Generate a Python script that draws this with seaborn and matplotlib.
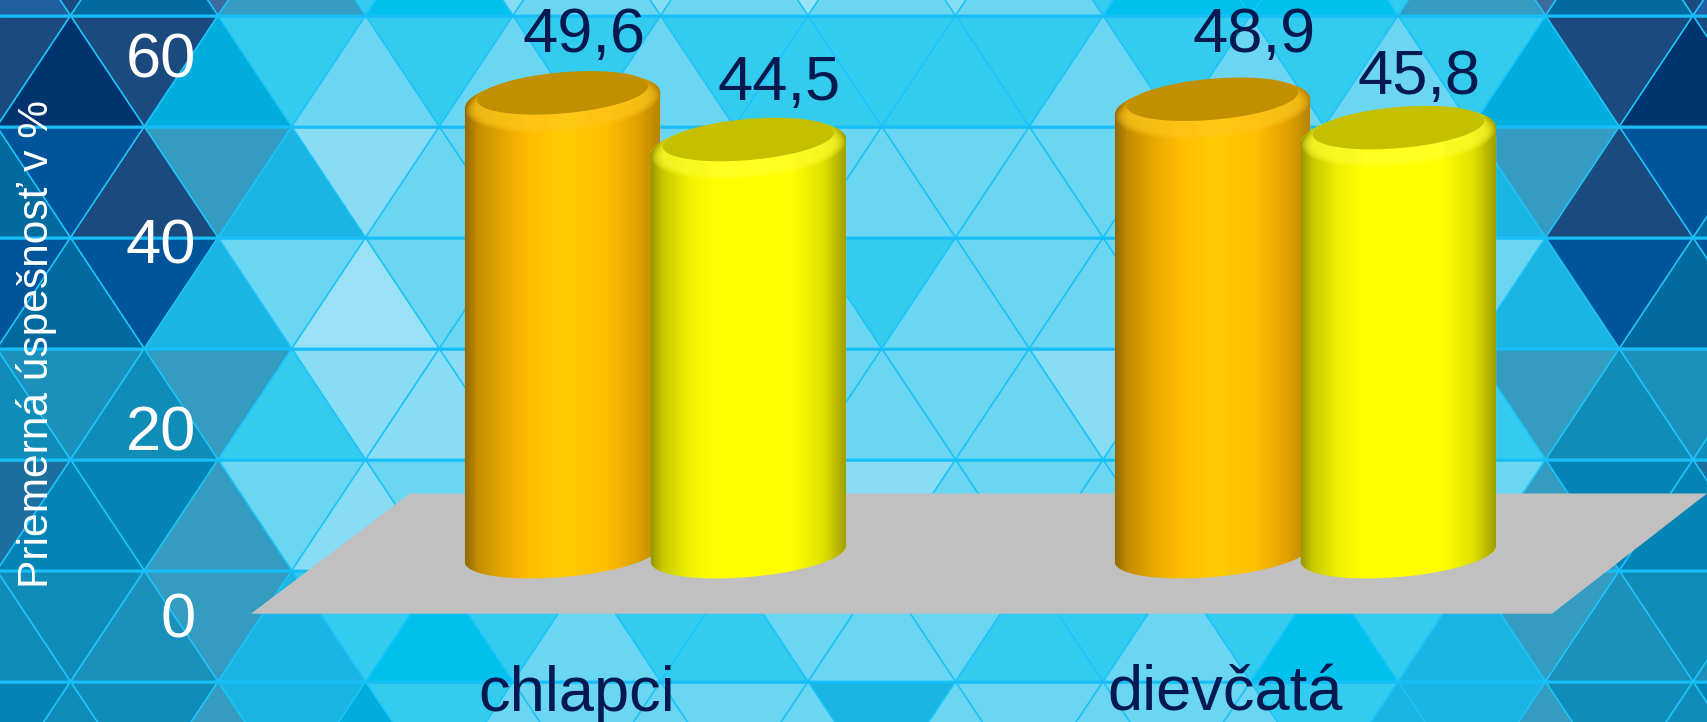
import numpy as np
import pandas as pd
import matplotlib
matplotlib.use("Agg")
import matplotlib.pyplot as plt
from matplotlib.collections import PolyCollection
from matplotlib.colors import LinearSegmentedColormap
from matplotlib.patches import PathPatch, Polygon
from matplotlib.path import Path
import seaborn as sns

# valores del grafico
skupiny = ["chlapci", "dievčatá"]
serie_a = [49.6, 48.9]
serie_b = [44.5, 45.8]
y_ticks = [0, 20, 40, 60]
y_titulo = "Priemerná úspešnosť v %"

# fondo de triangulos, una fila de letras por cada banda horizontal
colores_fondo = {
    "A": "#00346f", "B": "#1b4a7e", "C": "#00559a", "D": "#006a9f",
    "E": "#0484b4", "F": "#0f8cb8", "G": "#1a90bb", "H": "#339cc0",
    "I": "#00aede", "J": "#1ab5e3", "K": "#00c0ee", "L": "#33ccee",
    "M": "#6ad6f2", "N": "#88dcf3", "O": "#99e2f6", "Q": "#2060a0",
    "R": "#3d6b9e", "S": "#1c6f9f",
}
filas_fondo = [
    "QBDRHLKNMNMOMNMLKKKLHRDBQ",
    "BABILMLMLMLLLLLMLMLMLIBAB",
    "DCBHJNMMMMMMMMMMMMMNJHBCD",
    "CDCJMOMMMMMMLMMMMMMMMJCDC",
    "FGFHLNNNMMMMMMMNMMMNLHFGF",
    "SEEHMNMMMMMMNMMMMMMMMHEES",
    "FFGHJLKLMLLMMMLLMLKLJHGFG",
    "EFFHJILMMMMMJMMMMMLJJHFFE",
]

W, H = 1707, 722
ESCALA_X = 650.0
ESCALA_Y = 9.15
BASE_Y = 554.0
AZUL_TEXTO = "#03194f"

sns.set_theme(style="white")
plt.rcParams["font.family"] = ["Liberation Sans", "DejaVu Sans"]

fig = plt.figure(figsize=(W / 100, H / 100), dpi=100)

# fondo en pixeles
ax_fondo = fig.add_axes([0, 0, 1, 1], zorder=0)
ax_fondo.set_xlim(0, W)
ax_fondo.set_ylim(H, 0)
ax_fondo.axis("off")

paso_x = 73.75
paso_y = 111.0
tris, cols = [], []
for i, fila in enumerate(filas_fondo):
    r = i - 1
    y0 = 15.5 + paso_y * r
    y1 = y0 + paso_y
    for j, letra in enumerate(fila):
        t = j - 1
        xa = -3.15 + paso_x * t
        if (r % 2 == 0) == (t % 2 == 0):
            tris.append([(xa + paso_x, y0), (xa, y1), (xa + 2 * paso_x, y1)])
        else:
            tris.append([(xa, y0), (xa + 2 * paso_x, y0), (xa + paso_x, y1)])
        cols.append(colores_fondo[letra])
ax_fondo.add_collection(
    PolyCollection(tris, facecolors=cols, edgecolors="#1cc4fb", linewidths=1.1)
)
for i in range(len(filas_fondo)):
    ax_fondo.axhline(15.5 + paso_y * i, color="#16bdf6", lw=1.8, zorder=3)

# piso gris
ax_fondo.add_patch(
    Polygon([(410, 493.5), (1707, 493.5), (1552, 613.7), (251, 613.7)],
            facecolor="#c0c0c0", edgecolor="none", zorder=4)
)

# barras
df = pd.DataFrame({
    "skupina": skupiny * 2,
    "hodnota": serie_a + serie_b,
    "serie": ["a"] * len(serie_a) + ["b"] * len(serie_b),
})
ax = fig.add_axes([0, 0, 1, 1], zorder=1)
ax.patch.set_alpha(0)
sns.barplot(
    data=df, x="skupina", y="hodnota", hue="serie", order=skupiny,
    palette={"a": "#ffc000", "b": "#ffff00"}, width=0.572, gap=-0.048,
    legend=False, ax=ax, saturation=1,
)
xlim = (-655.5 / ESCALA_X, (W - 655.5) / ESCALA_X)
ylim = (-(H - BASE_Y) / ESCALA_Y, BASE_Y / ESCALA_Y)


def elipse(cx, cy, a, b, t):
    # elipse inclinada, medida en pixeles y pasada a datos
    ang = np.radians(5)
    px = a * np.cos(t) * np.cos(ang) - b * np.sin(t) * np.sin(ang)
    py = a * np.cos(t) * np.sin(ang) + b * np.sin(t) * np.cos(ang)
    return np.column_stack([cx + px / ESCALA_X, cy + py / ESCALA_Y])


cmap_a = LinearSegmentedColormap.from_list("a", [
    (0, "#8a6400"), (0.07, "#c28c00"), (0.2, "#e6a800"), (0.33, "#ffbc00"),
    (0.5, "#ffcc00"), (0.72, "#ffbe00"), (0.88, "#e0a000"), (1, "#b08000"),
])
cmap_b = LinearSegmentedColormap.from_list("b", [
    (0, "#8a8a00"), (0.07, "#c8c800"), (0.2, "#f0f000"), (0.33, "#ffff00"),
    (0.72, "#ffff00"), (0.88, "#e0e000"), (1, "#9a9a00"),
])
tapas = {"a": "#c09000", "b": "#c4c000"}
brillo = {"a": "#ffc81e", "b": "#ffff30"}
degradado = np.linspace(0, 1, 256).reshape(1, -1)

# separacion de cada etiqueta respecto a la tapa, en pixeles
desplaz_etiquetas = [(21.5, 48.5), (42, 55), (31, 47), (20.5, 41)]
series = ["a", "a", "b", "b"]
valores = serie_a + serie_b
a_px = 98.0

for n, p in enumerate(ax.patches[:4]):
    cx = p.get_x() + p.get_width() / 2
    alto = p.get_height()
    s = series[n]
    z = 2 + n if s == "a" else 6 + n
    abajo = elipse(cx, 0, a_px, 23, np.radians(np.linspace(180, 360, 80)))
    arriba = elipse(cx, alto, a_px, 27, np.radians(np.linspace(0, 180, 80)))
    contorno = np.vstack([abajo, arriba, abajo[:1]])
    cuerpo = PathPatch(Path(contorno), transform=ax.transData, fc="none", ec="none")
    ax.add_patch(cuerpo)
    p.set_zorder(z)
    p.set_clip_path(cuerpo)
    im = ax.imshow(
        degradado, cmap=cmap_a if s == "a" else cmap_b, aspect="auto",
        extent=[cx - 100 / ESCALA_X, cx + 100 / ESCALA_X, -6, alto + 6],
        zorder=z + 0.1,
    )
    im.set_clip_path(cuerpo)
    # brillo suave bajo la tapa y tapa oscura
    t = np.radians(np.linspace(0, 360, 120))
    for k in range(8):
        capa = Polygon(elipse(cx, alto - 0.3, 97 - k * 1.5, 29 - k * 0.8, t),
                       fc=brillo[s], ec="none", alpha=0.16, zorder=z + 0.2)
        ax.add_patch(capa)
        capa.set_clip_path(cuerpo)
    ax.add_patch(Polygon(elipse(cx, alto + 0.8, 86, 20.5, t), fc=tapas[s], ec="none",
                         zorder=z + 0.3))
    ax.annotate(
        f"{valores[n]:.1f}".replace(".", ","), xy=(cx, alto),
        xytext=desplaz_etiquetas[n], textcoords="offset pixels",
        ha="center", va="baseline", fontsize=45.5, color=AZUL_TEXTO, zorder=20,
    )

ax.set_xlim(xlim)
ax.set_ylim(ylim)
ax.axis("off")

# ejes de la pared, corridos respecto a las barras
izq, base, arr = 200.0, 614.5, 54.0
ax_ejes = fig.add_axes(
    [izq / W, (H - base) / H, (W - izq) / W, (base - arr) / H], zorder=2
)
ax_ejes.patch.set_alpha(0)
ax_ejes.set_xlim((izq - 577) / 648, (W - 577) / 648)
ax_ejes.set_ylim(0, 60)
ax_ejes.set_yticks(y_ticks)
ax_ejes.set_xticks(range(len(skupiny)))
ax_ejes.set_xticklabels(skupiny, fontsize=45.5, color=AZUL_TEXTO)
ax_ejes.tick_params(axis="x", length=0, pad=36)
ax_ejes.tick_params(axis="y", length=0, pad=3, labelsize=45.5, labelcolor="white")
sns.despine(ax=ax_ejes, left=True, bottom=True)
ax_ejes.set_ylabel(y_titulo, fontsize=30.6, color="white")
ax_ejes.yaxis.set_label_coords(57 / W, 1 - 344 / H, transform=fig.transFigure)

fig.savefig("out.png", dpi=100)
